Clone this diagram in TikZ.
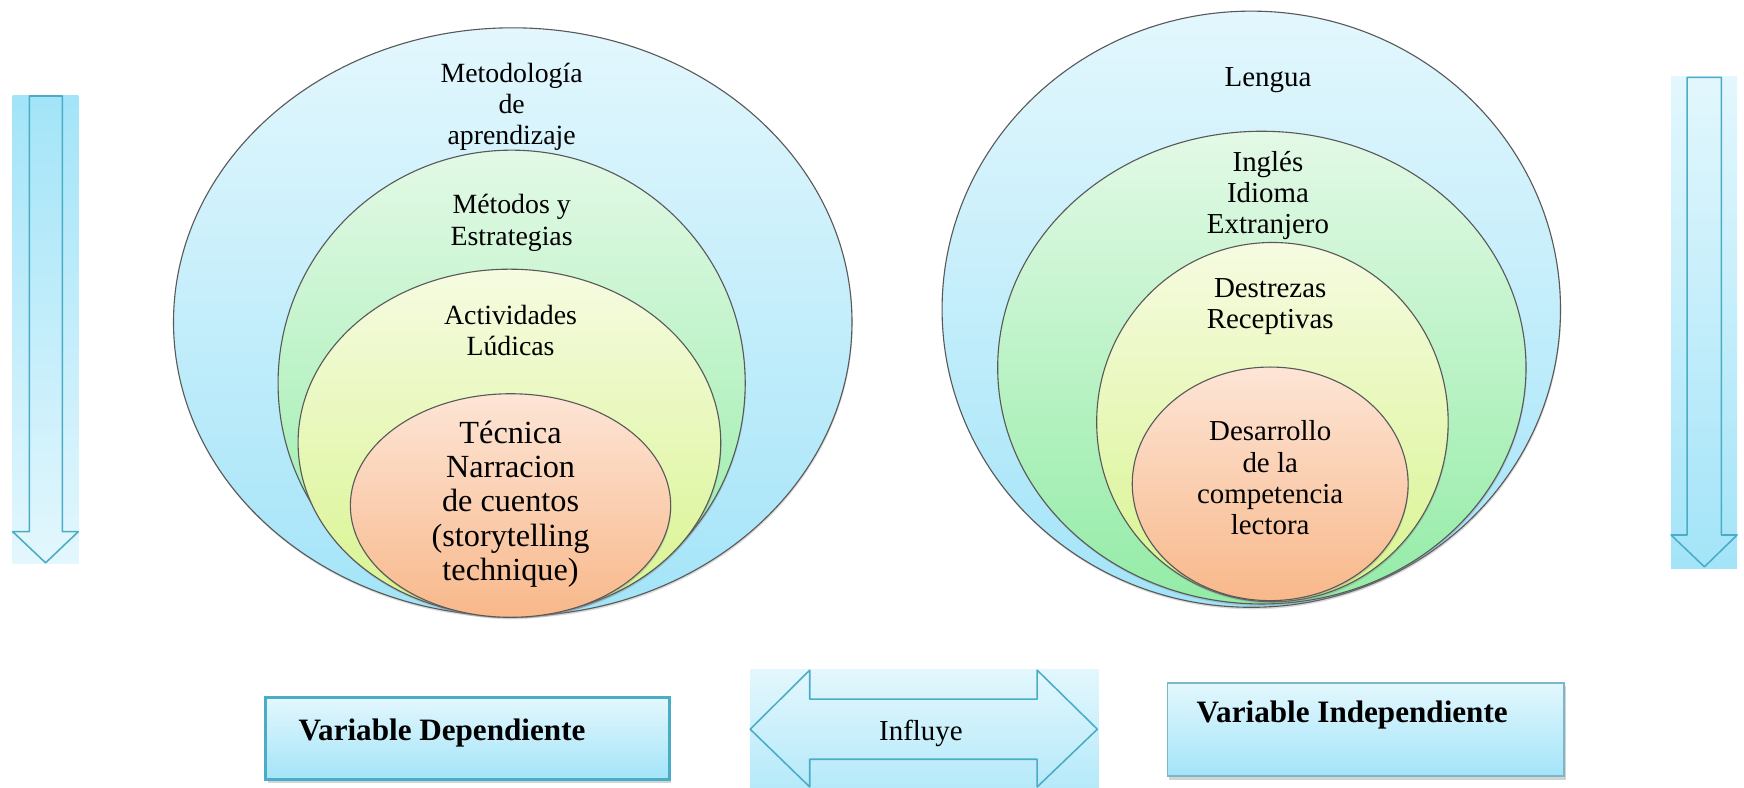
\documentclass[tikz,border=0pt]{standalone}
\usepackage{fontspec}
\setmainfont{Liberation Serif}
\usetikzlibrary{shapes.geometric,shadows}
\definecolor{edgeblue}{HTML}{4BACC6}
\definecolor{edgegray}{HTML}{7DB6C6}
\definecolor{iceTop}{HTML}{E3F7FD}
\definecolor{iceBot}{HTML}{A3E4F8}
\definecolor{mintTop}{HTML}{E3F9E6}
\definecolor{mintBot}{HTML}{93ECA6}
\definecolor{limeTop}{HTML}{F6FBE1}
\definecolor{limeBot}{HTML}{D8F48E}
\definecolor{peachTop}{HTML}{FDE5D6}
\definecolor{peachBot}{HTML}{F8B88A}
\begin{document}
\begin{tikzpicture}[
      x=0.5pt, y=-0.5pt,
      every node/.style={font=\rmfamily},
      ring/.style={ellipse, draw=black!65, line width=0.5pt, inner sep=0pt,
        drop shadow={shadow xshift=0.3pt, shadow yshift=-0.9pt, opacity=0.3}},
      ice/.style={ring, top color=iceTop, bottom color=iceBot},
      mint/.style={ring, top color=mintTop, bottom color=mintBot},
      lime/.style={ring, top color=limeTop, bottom color=limeBot},
      peach/.style={ring, top color=peachTop, bottom color=peachBot},
      tag/.style={align=center, inner sep=0pt, anchor=north,
        font=\rmfamily\fontsize{12.5}{14}\selectfont},
      bigtag/.style={tag, font=\rmfamily\fontsize{14.5}{15.4}\selectfont},
      righttag/.style={tag, font=\rmfamily\fontsize{13}{14}\selectfont},
      band/.style={rectangle, inner sep=0pt},
      outline/.style={draw=edgeblue, line width=0.7pt, line join=round},
      varbox/.style={rectangle, inner sep=0pt, top color=iceTop, bottom color=iceBot,
        drop shadow={shadow xshift=0.8pt, shadow yshift=-1.6pt, opacity=0.35}},
      vartext/.style={anchor=base west, inner sep=0pt,
        font=\rmfamily\fontsize{14}{16}\selectfont\bfseries}
    ]
  \useasboundingbox (0,0) rectangle (1568,708);

  \node[ice, minimum width=305pt, minimum height=264.5pt] (metodologia) at (461,289.5) {};
  \node[mint, minimum width=210pt, minimum height=209.5pt] (metodos) at (460,344.5) {};
  \node[lime, minimum width=190pt, minimum height=156pt] (actividades) at (458,398) {};
  \node[peach, minimum width=144pt, minimum height=100.5pt] (tecnica) at (459,454.5) {};

  \node[tag] (t-metodologia) at (460,56.5) {Metodología\\de\\aprendizaje};
  \node[tag] (t-metodos) at (460,174.5) {Métodos y\\Estrategias};
  \node[tag] (t-actividades) at (459,274) {Actividades\\Lúdicas};
  \node[bigtag] (t-tecnica) at (459,378)
    {Técnica\\Narracion\\de cuentos\\(storytelling\\technique)};

  \node[ice, minimum width=278pt, minimum height=268pt] (lengua) at (1125,278) {};
  \node[mint, minimum width=237.5pt, minimum height=212.5pt] (ingles) at (1134.5,330.5) {};
  \node[lime, minimum width=158pt, minimum height=161.5pt] (destrezas) at (1144,379.5) {};
  \node[peach, minimum width=124pt, minimum height=105pt] (desarrollo) at (1142,435) {};

  \node[righttag] (t-lengua) at (1140,60.3) {Lengua};
  \node[righttag] (t-ingles) at (1140,135.3) {Inglés\\Idioma\\Extranjero};
  \node[righttag] (t-destrezas) at (1142,249.6) {Destrezas\\Receptivas};
  \node[righttag] (t-desarrollo) at (1142,378) {Desarrollo\\de la\\competencia\\lectora};

  \node[band, minimum width=29.5pt, minimum height=210.5pt,
    top color=iceBot, bottom color=iceTop] (bandL) at (40.9,296) {};
  \draw[outline] (26.4,86.3) -- (56,86.3) -- (56,478) -- (70.4,478) -- (41,506)
    -- (11.4,478) -- (26.4,478) -- cycle;

  \node[band, minimum width=29.7pt, minimum height=221pt,
    top color=iceTop, bottom color=iceBot] (bandR) at (1532.1,290) {};
  \draw[outline] (1516.8,69.5) -- (1547.7,69.5) -- (1547.7,481) -- (1561.8,481)
    -- (1532.4,509.6) -- (1502.4,481) -- (1516.8,481) -- cycle;

  \node[varbox, draw=edgeblue, line width=1.35pt, minimum width=181.5pt,
    minimum height=37pt] (vdep) at (420.5,664) {};
  \node[vartext] (t-vdep) at (268,666) {Variable Dependiente};

  \node[band, minimum width=156.75pt, minimum height=53.2pt,
    top color=iceTop, bottom color=iceBot!80] (bandI) at (831.25,654.8) {};
  \draw[outline] (674.5,655.6) -- (728,602.5) -- (728,628.6) -- (932.5,628.6)
    -- (932.5,602.5) -- (986.6,655.6) -- (932.5,707.5) -- (932.5,682.6)
    -- (728,682.6) -- (728,707.5) -- cycle;
  \node[anchor=base, inner sep=0pt, font=\rmfamily\fontsize{13}{15}\selectfont] (influye)
    at (828,665.5) {Influye};

  \node[varbox, draw=edgegray, line width=0.8pt, minimum width=178.2pt,
    minimum height=42pt] (vind) at (1227.8,656) {};
  \node[vartext] (t-vind) at (1075.4,650) {Variable Independiente};
\end{tikzpicture}
\end{document}
